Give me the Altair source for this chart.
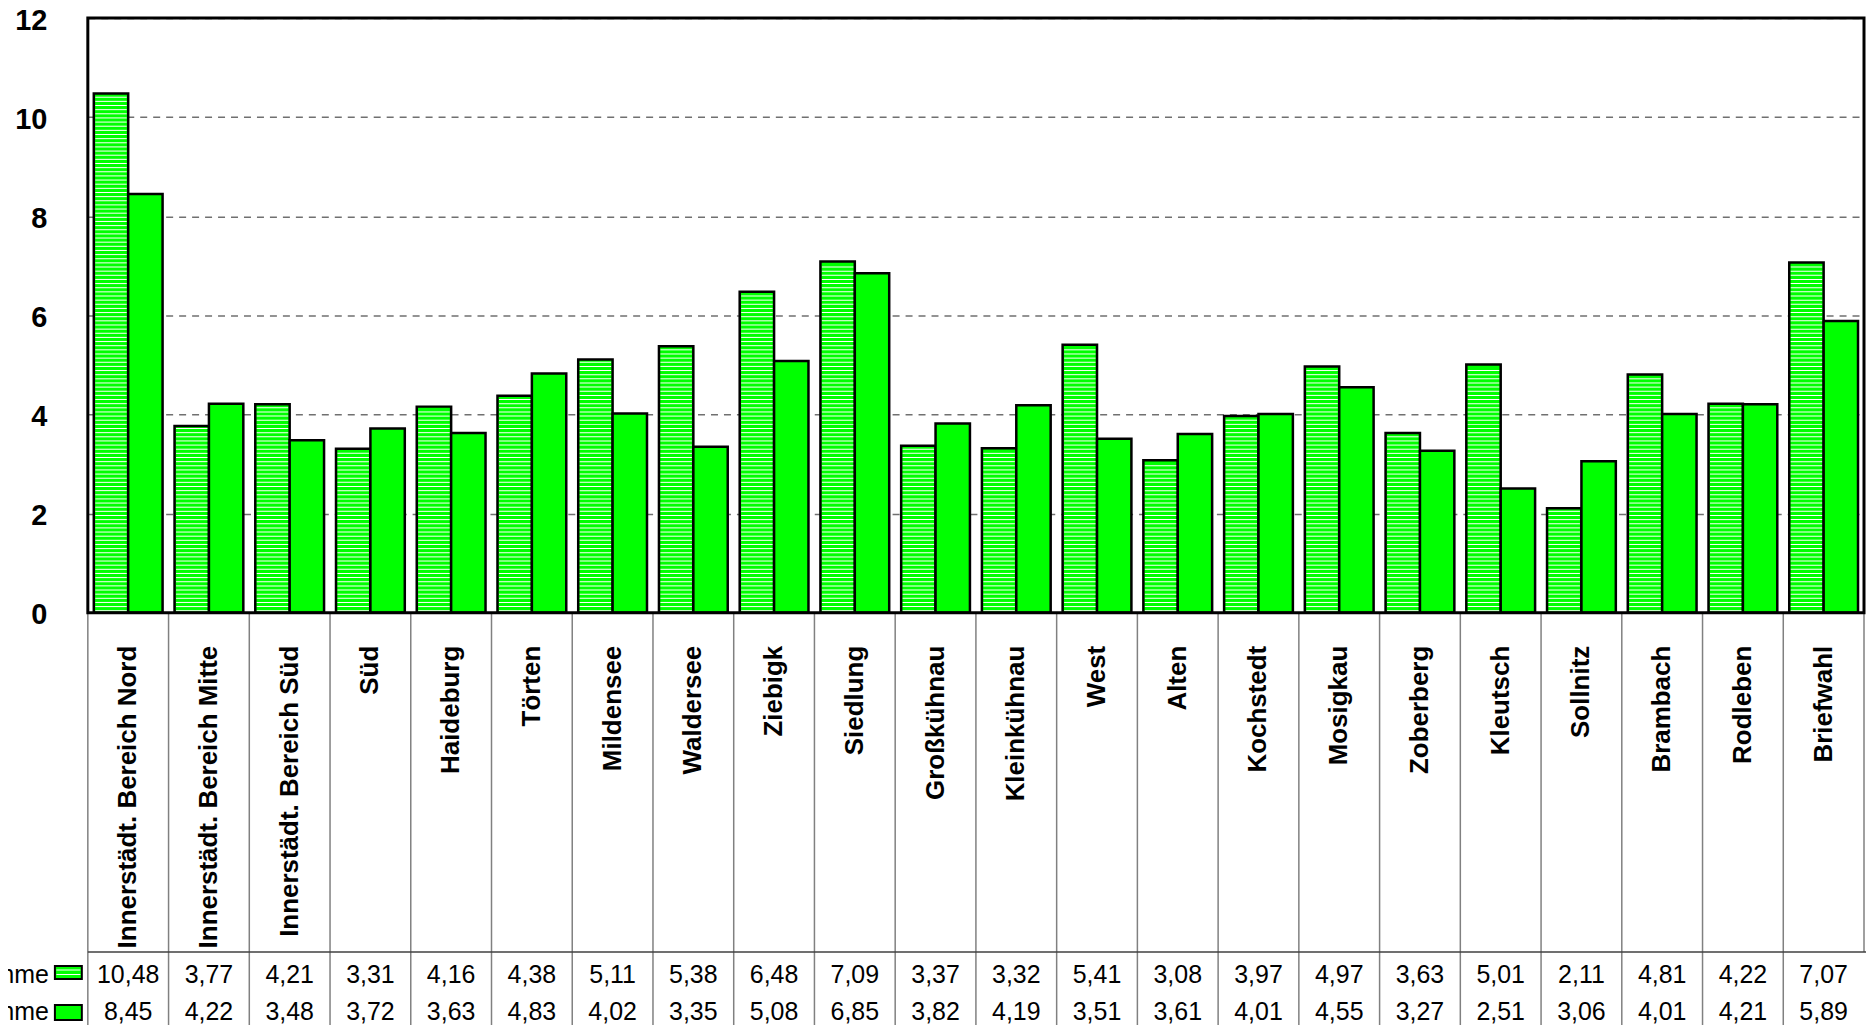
import altair as alt
import pandas as pd
import numpy as np

categories = [
    "Innerstädt. Bereich Nord", "Innerstädt. Bereich Mitte", "Innerstädt. Bereich Süd",
    "Süd", "Haideburg", "Törten", "Mildensee", "Waldersee", "Ziebigk", "Siedlung",
    "Großkühnau", "Kleinkühnau", "West", "Alten", "Kochstedt", "Mosigkau",
    "Zoberberg", "Kleutsch", "Sollnitz", "Brambach", "Rodleben", "Briefwahl",
]
series_names = ["Wahl 1 Summe", "Wahl 2 Summe"]
values_1 = [10.48, 3.77, 4.21, 3.31, 4.16, 4.38, 5.11, 5.38, 6.48, 7.09, 3.37,
            3.32, 5.41, 3.08, 3.97, 4.97, 3.63, 5.01, 2.11, 4.81, 4.22, 7.07]
values_2 = [8.45, 4.22, 3.48, 3.72, 3.63, 4.83, 4.02, 3.35, 5.08, 6.85, 3.82,
            4.19, 3.51, 3.61, 4.01, 4.55, 3.27, 2.51, 3.06, 4.01, 4.21, 5.89]
y_ticks = [0, 2, 4, 6, 8, 10, 12]

# ---- layout (style) ----
W, H = 1780, 596
PAD_IN, PAD_OUT = 0.148, 0.074
TOTAL_H = 1018
PAD = {"left": 80, "top": 9, "right": 2, "bottom": TOTAL_H - 9 - H}
BOTTOM = TOTAL_H - 9
step_px = W / (len(categories) - PAD_IN + 2 * PAD_OUT)
bar_w = step_px * (1 - PAD_IN) / 2
GREEN = "#00ff00"
FONT = "Liberation Sans"

rows = []
for c, a, b in zip(categories, values_1, values_2):
    rows.append({"cat": c, "series": series_names[0], "value": a})
    rows.append({"cat": c, "series": series_names[1], "value": b})
df = pd.DataFrame(rows)
df["label"] = df["value"].map(lambda v: f"{v:.2f}".replace(".", ","))

stripe_step = 4.15 * 12 / H
stripe_rows = []
for c, a in zip(categories, values_1):
    for s in np.arange(stripe_step / 2, a - stripe_step / 2, stripe_step):
        stripe_rows.append({"cat": c, "series": series_names[0], "s": float(s)})
stripes_df = pd.DataFrame(stripe_rows)
cats_df = pd.DataFrame({"cat": categories})
dummy = pd.DataFrame({"k": [0]})

xscale = alt.Scale(paddingInner=PAD_IN, paddingOuter=PAD_OUT)
def xenc(**kw):
    return alt.X("cat:N", sort=categories, scale=xscale, axis=None, **kw)

xoff = alt.XOffset("series:N", sort=series_names,
                   scale=alt.Scale(domain=series_names, paddingInner=0, paddingOuter=0))
yscale = alt.Scale(domain=[0, 12], nice=False, zero=True)
yaxis = alt.Axis(values=y_ticks, title=None, labelFontSize=29, labelFontWeight="bold",
                 labelColor="black", labelFont=FONT, grid=True, gridDash=[7, 6],
                 gridColor="#707070", gridWidth=1.5, domain=False, ticks=False,
                 labelPadding=41, labelOffset=2)

bars = alt.Chart(df).mark_bar(fill=GREEN, stroke="black", strokeWidth=2.5).encode(
    x=xenc(), xOffset=xoff,
    y=alt.Y("value:Q", scale=yscale, axis=yaxis),
)

stripes = alt.Chart(stripes_df).mark_tick(
    orient="horizontal", color="white", thickness=1, size=bar_w - 3, opacity=1
).encode(x=xenc(), xOffset=xoff, y=alt.Y("s:Q", scale=yscale, axis=yaxis))

cat_labels = alt.Chart(cats_df).mark_text(
    angle=270, align="right", baseline="middle", fontSize=26, fontWeight="bold",
    color="black", font=FONT
).encode(x=xenc(), y=alt.value(H + 33), text="cat:N")

row_y = [959, 996]
table_text = [
    alt.Chart(df).transform_filter(alt.datum.series == name).mark_text(
        fontSize=25, baseline="middle", align="center", color="black", font=FONT
    ).encode(x=xenc(), y=alt.value(yy), text="label:N")
    for name, yy in zip(series_names, row_y)
]

vlines = alt.Chart(cats_df).mark_rule(
    color="#808080", strokeWidth=1.5, xOffset=-step_px * PAD_IN / 2
).encode(x=xenc(bandPosition=0), y=alt.value(H + 1), y2=alt.value(BOTTOM))

right_line = alt.Chart(dummy).mark_rule(color="#808080", strokeWidth=1.5).encode(
    x=alt.value(W), y=alt.value(H + 1), y2=alt.value(936))
hline = alt.Chart(dummy).mark_rule(color="#404040", strokeWidth=1.5).encode(
    x=alt.value(0), x2=alt.value(W + 2), y=alt.value(936))

key_layers = []
key_boxes = [(950, 963), (989, 1004)]
for i, (y0, y1) in enumerate(key_boxes):
    key_layers.append(alt.Chart(dummy).mark_rect(fill=GREEN, stroke="black", strokeWidth=2).encode(
        x=alt.value(-33), x2=alt.value(-6), y=alt.value(y0), y2=alt.value(y1)))
    key_layers.append(alt.Chart(dummy).mark_text(
        align="right", baseline="middle", fontSize=25, color="black", font=FONT
    ).encode(x=alt.value(-39), y=alt.value(row_y[i]), text=alt.value(series_names[i])))
for yy in [954, 958.5]:
    key_layers.append(alt.Chart(dummy).mark_rule(color="white", strokeWidth=1).encode(
        x=alt.value(-31.5), x2=alt.value(-7.5), y=alt.value(yy)))

border = alt.Chart(dummy).mark_rect(fill=None, fillOpacity=0, stroke="black", strokeWidth=3).encode(
    x=alt.value(0), x2=alt.value(W), y=alt.value(0), y2=alt.value(H))

chart = alt.layer(
    bars, stripes, cat_labels, *table_text, vlines, right_line, hline, *key_layers, border
).properties(
    width=W, height=H, autosize=alt.AutoSizeParams(type="none"), padding=PAD,
    background="white",
).configure_view(strokeWidth=0).configure(font=FONT)

chart.save("out.html", embed_options={"renderer": "svg", "actions": False})
